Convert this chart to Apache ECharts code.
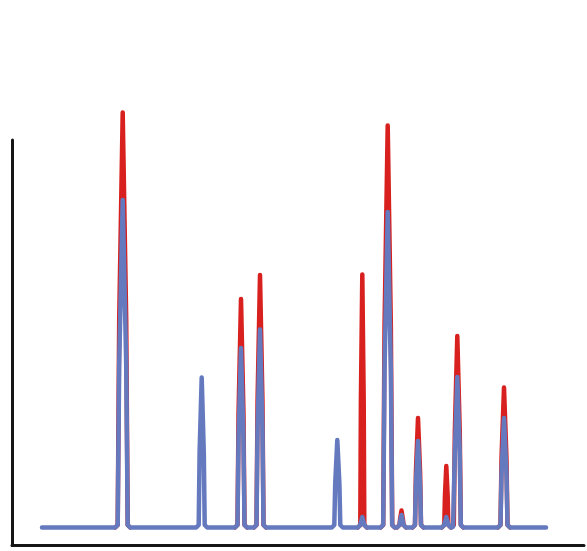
<!DOCTYPE html>
<html>
<head>
<meta charset="utf-8">
<script src="https://cdn.jsdelivr.net/npm/echarts@6/dist/echarts.min.js"></script>
<style>
html,body{margin:0;padding:0;background:#ffffff;}
#chart{width:587px;height:551px;}
</style>
</head>
<body>
<div id="chart"></div>
<script>
// Peak data (x = retention position, heights above baseline)
const peakX          = [110.7, 189.7, 229, 248, 325.3, 350.3, 375.7, 389.5, 406, 434.3, 445.3, 492];
const blueHeight     = [327.5, 150, 179.5, 198, 87.5, 10.5, 315.5, 12.5, 86.5, 10.5, 150.5, 109.5];
const redHeight      = [415,   0,   228.5, 252.5, 0,  253,  402,   17,   109.5, 61.5, 191.5, 140];
const peakHalfWidth  = [5, 3, 3.5, 3.5, 3, 2, 4.5, 2, 3, 2, 3.5, 3.5];
const baselineRange  = [30, 534];
// peak profile read from the drawn peaks: [fraction of height, fraction of half-width]
const profile        = [[0.5, 0.7]];

function peakPoints(i, h) {
  const r = 2.5;
  const cx = peakX[i], w = peakHalfWidth[i];
  const left = [[cx - w - r, 0], [cx - w - 0.29 * r, 0.29 * r], [cx - w, r]];
  profile.forEach(p => { if (h * p[0] > r) left.push([cx - w * p[1], h * p[0]]); });
  const right = left.slice().reverse().map(p => [2 * cx - p[0], p[1]]);
  return [...left, [cx, h], ...right];
}

// Blue: full trace with baseline
function buildBlue() {
  const pts = [[baselineRange[0], 0]];
  for (let i = 0; i < peakX.length; i++) pts.push(...peakPoints(i, blueHeight[i]));
  pts.push([baselineRange[1], 0]);
  return pts;
}
// Red: drawn under the blue trace; only the peaks that rise above it are needed
function buildRed() {
  const pts = [];
  for (let i = 0; i < peakX.length; i++) {
    if (redHeight[i] > blueHeight[i]) {
      pts.push(...peakPoints(i, redHeight[i]));
      pts.push('-');
    }
  }
  return pts;
}

const chart = echarts.init(document.getElementById('chart'), null, {renderer: 'canvas'});
chart.setOption({
  animation: false,
  backgroundColor: '#ffffff',
  grid: {left: 12, right: 3, top: 140, bottom: 5.5},
  xAxis: {
    type: 'value', min: 0, max: 572,
    axisLine: {show: true, onZero: false, lineStyle: {color: '#151515', width: 3}},
    axisTick: {show: false}, axisLabel: {show: false}, splitLine: {show: false}
  },
  yAxis: {
    type: 'value', min: -18, max: 387.5,
    axisLine: {show: true, lineStyle: {color: '#151515', width: 3}},
    axisTick: {show: false}, axisLabel: {show: false}, splitLine: {show: false}
  },
  series: [
    {
      type: 'line', data: buildRed(), showSymbol: false, clip: false, connectNulls: false,
      lineStyle: {color: '#d8201e', width: 4.5, join: 'round', cap: 'round'}, z: 2
    },
    {
      type: 'line', data: buildBlue(), showSymbol: false, clip: false,
      lineStyle: {color: '#6579bf', width: 4.5, join: 'round', cap: 'round'}, z: 3
    }
  ]
});
</script>
</body>
</html>
